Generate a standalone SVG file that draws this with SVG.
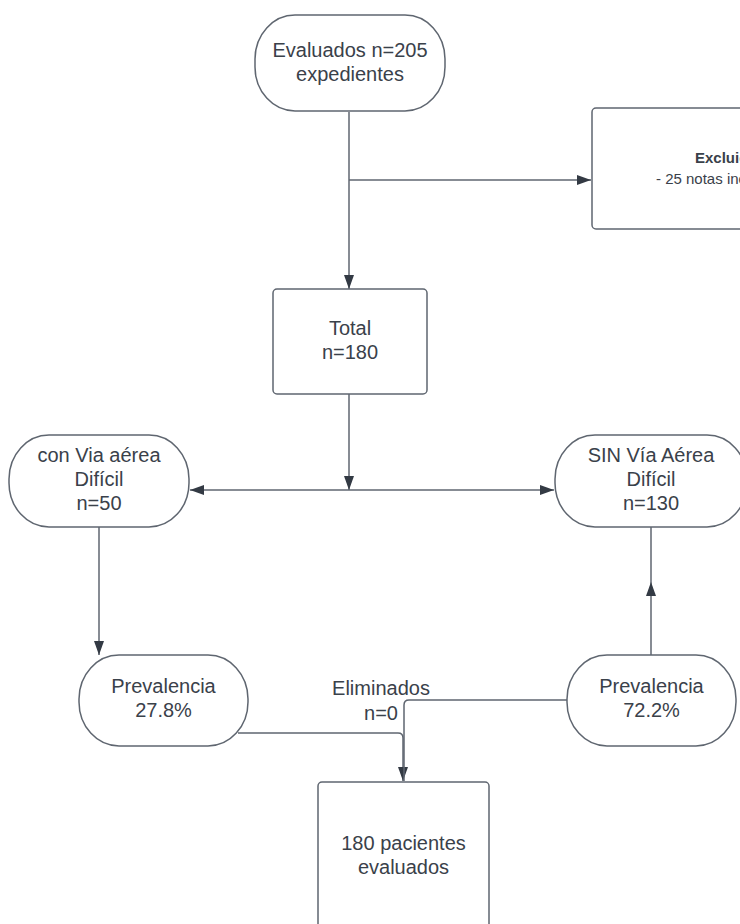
<svg xmlns="http://www.w3.org/2000/svg" width="740" height="924" viewBox="0 0 740 924">
  <defs>
    <style>
      .node { fill: #ffffff; stroke: #5f6670; stroke-width: 1.5; }
      .t { font-family: "Liberation Sans", Arial, sans-serif; font-size: 20px; fill: #3a414a; text-anchor: middle; }
      .ts { font-family: "Liberation Sans", Arial, sans-serif; font-size: 15px; fill: #3a414a; text-anchor: start; }
      .conn { fill: none; stroke: #5f6670; stroke-width: 1.5; }
    </style>
    <marker id="arrow" markerUnits="userSpaceOnUse" markerWidth="14" markerHeight="10" viewBox="0 0 14 10" refX="14" refY="5" orient="auto-start-reverse">
      <path d="M0,0 L14,5 L0,10 z" fill="#333a44"/>
    </marker>
  </defs>
  <rect width="740" height="924" fill="#ffffff"/>

  <g id="connectors">
    <line class="conn" x1="349" y1="112" x2="349" y2="289" marker-end="url(#arrow)"/>
    <line class="conn" x1="349" y1="180" x2="591" y2="180" marker-end="url(#arrow)"/>
    <line class="conn" x1="349" y1="394" x2="349" y2="490" marker-end="url(#arrow)"/>
    <line class="conn" x1="190" y1="490" x2="554" y2="490" marker-start="url(#arrow)" marker-end="url(#arrow)"/>
    <line class="conn" x1="99" y1="527" x2="99" y2="655" marker-end="url(#arrow)"/>
    <path class="conn" d="M651,655 L651,582 L651,527" marker-mid="url(#arrow)"/>
    <path class="conn" d="M238,733 H398 Q403,733 403,738 V781" marker-end="url(#arrow)"/>
    <path class="conn" d="M567,700 H409 Q404,700 404,705 V781"/>
    <text class="t" x="381" y="695">Eliminados</text>
    <text class="t" x="381" y="720">n=0</text>
  </g>

  <g id="evaluados">
    <rect class="node" x="255" y="15" width="190" height="96" rx="40" ry="44"/>
    <text class="t" x="350" y="57">Evaluados n=205</text>
    <text class="t" x="350" y="81">expedientes</text>
  </g>

  <g id="excluidos">
    <rect class="node" x="592" y="108" width="272" height="121" rx="4"/>
    <text class="ts" x="695" y="163" font-weight="bold">Excluidos</text>
    <text class="ts" x="656" y="184">- 25 notas incompletas</text>
  </g>

  <g id="total">
    <rect class="node" x="273" y="289" width="154" height="105" rx="4"/>
    <text class="t" x="350" y="335">Total</text>
    <text class="t" x="350" y="359">n=180</text>
  </g>

  <g id="con-via">
    <rect class="node" x="9" y="435" width="180" height="92" rx="40" ry="44"/>
    <text class="t" x="99" y="462">con Via aérea</text>
    <text class="t" x="99" y="486">Difícil</text>
    <text class="t" x="99" y="510">n=50</text>
  </g>

  <g id="sin-via">
    <rect class="node" x="555" y="435" width="192" height="92" rx="40" ry="44"/>
    <text class="t" x="651" y="462">SIN Vía Aérea</text>
    <text class="t" x="651" y="486">Difícil</text>
    <text class="t" x="651" y="510">n=130</text>
  </g>

  <g id="prev-27">
    <rect class="node" x="79" y="655" width="169" height="91" rx="40" ry="44"/>
    <text class="t" x="163.5" y="693">Prevalencia</text>
    <text class="t" x="163.5" y="717">27.8%</text>
  </g>

  <g id="prev-72">
    <rect class="node" x="567" y="655" width="169" height="91" rx="40" ry="44"/>
    <text class="t" x="651.5" y="693">Prevalencia</text>
    <text class="t" x="651.5" y="717">72.2%</text>
  </g>

  <g id="pacientes">
    <rect class="node" x="318" y="782" width="171" height="170" rx="4"/>
    <text class="t" x="403.5" y="850">180 pacientes</text>
    <text class="t" x="403.5" y="874">evaluados</text>
  </g>
</svg>
